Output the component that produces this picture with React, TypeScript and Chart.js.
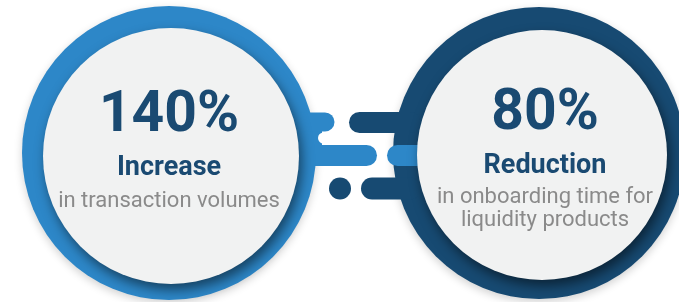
import React, { useEffect, useRef } from "react";
import { Chart, registerables } from "chart.js";

Chart.register(...registerables);

// ---- content ----
const metrics = ["140%", "80%"];
const headings = ["Increase", "Reduction"];
const captions = [["in transaction volumes"], ["in onboarding time for", "liquidity products"]];

// ---- palette ----
const BLUE = "#2d87c8";
const NAVY = "#174a72";
const FACE = "#f1f2f2";
const NUM = "#1a4a72";
const GRAY = "#8a8a8a";

// ---- layout (in scale units = canvas px) ----
const W = 679;
const H = 302;
const rings = [
  { x: 169, y: 153, r: 147, c: BLUE },
  { x: 539, y: 153, r: 146, c: NAVY },
];
const faces = [
  { x: 171, y: 156, r: 128 },
  { x: 542, y: 155, r: 125 },
];
const textCenters = [169, 545];
const numBase = [131, 129];
const headBase = [175, 173];
const capBase = [[207], [203, 226]];

type Seg = { a: number[]; b: number[]; w: number; c: string; cap?: string };
const segments: Seg[] = [
  { a: [296, 140], b: [322, 140], w: 50, c: BLUE, cap: "butt" },
  { a: [296, 122], b: [325, 122], w: 19, c: BLUE },
  { a: [296, 155.5], b: [366.5, 155.5], w: 21, c: BLUE },
  { a: [323.5, 138], b: [345, 138], w: 11, c: "#ffffff" },
  { a: [359.5, 122.5], b: [410, 122.5], w: 21, c: NAVY },
  { a: [372, 188.5], b: [410, 188.5], w: 22, c: NAVY },
  { a: [397.5, 155.5], b: [425, 155.5], w: 21, c: BLUE },
];
const dots = [{ x: 340, y: 188.5, r: 11, c: NAVY }];

const shadowPlugin = {
  id: "shadows",
  beforeDatasetDraw(chart: any, args: any) {
    const ds = chart.data.datasets[args.index] as any;
    if (ds.shadow) {
      const ctx = chart.ctx;
      ctx.save();
      ctx.shadowColor = ds.shadow.color;
      ctx.shadowBlur = ds.shadow.blur;
      ctx.shadowOffsetX = ds.shadow.dx;
      ctx.shadowOffsetY = ds.shadow.dy;
    }
  },
  afterDatasetDraw(chart: any, args: any) {
    const ds = chart.data.datasets[args.index] as any;
    if (ds.shadow) chart.ctx.restore();
  },
};

const textPlugin = {
  id: "texts",
  afterDatasetsDraw(chart: any) {
    const ctx = chart.ctx;
    const sx = chart.scales.x;
    const sy = chart.scales.y;
    ctx.save();
    ctx.textAlign = "center";
    ctx.textBaseline = "alphabetic";
    metrics.forEach((m, i) => {
      const x = sx.getPixelForValue(textCenters[i]);
      ctx.fillStyle = NUM;
      ctx.font = "bold 57px Roboto";
      ctx.fillText(m, x, sy.getPixelForValue(numBase[i]));
      ctx.font = "bold 27px Roboto";
      ctx.fillText(headings[i], x, sy.getPixelForValue(headBase[i]));
      ctx.fillStyle = GRAY;
      ctx.font = "22px Roboto";
      captions[i].forEach((line, j) => {
        ctx.fillText(line, x, sy.getPixelForValue(capBase[i][j]));
      });
    });
    ctx.restore();
  },
};

export default function App() {
  const ref = useRef<HTMLCanvasElement>(null);
  useEffect(() => {
    if (!ref.current) return;
    const list: any[] = [];
    rings.forEach((r) =>
      list.push({
        type: "bubble",
        data: [{ x: r.x, y: r.y, r: r.r }],
        backgroundColor: r.c,
        borderWidth: 0,
        clip: false,
        shadow: { color: "rgba(0,0,0,0.18)", blur: 8, dx: 0, dy: 3 },
      })
    );
    segments.forEach((s) =>
      list.push({
        type: "line",
        data: [
          { x: s.a[0], y: s.a[1] },
          { x: s.b[0], y: s.b[1] },
        ],
        borderColor: s.c,
        borderWidth: s.w,
        borderCapStyle: s.cap || "round",
        pointRadius: 0,
        fill: false,
        tension: 0,
        clip: false,
      })
    );
    dots.forEach((d) =>
      list.push({
        type: "bubble",
        data: [{ x: d.x, y: d.y, r: d.r }],
        backgroundColor: d.c,
        borderWidth: 0,
        clip: false,
      })
    );
    faces.forEach((f) =>
      list.push({
        type: "bubble",
        data: [{ x: f.x, y: f.y, r: f.r }],
        backgroundColor: FACE,
        borderWidth: 0,
        clip: false,
        shadow: { color: "rgba(0,0,0,0.5)", blur: 12, dx: 3, dy: 6 },
      })
    );
    const n = list.length;
    list.forEach((d, i) => (d.order = n - i));

    const chart = new Chart(ref.current, {
      type: "bubble",
      data: { datasets: list },
      options: {
        responsive: false,
        maintainAspectRatio: false,
        animation: false,
        events: [],
        layout: { padding: 0, autoPadding: false },
        scales: {
          x: { type: "linear", min: 0, max: W, display: false },
          y: { type: "linear", min: 0, max: H, reverse: true, display: false },
        },
        plugins: { legend: { display: false }, tooltip: { enabled: false } },
      } as any,
      plugins: [shadowPlugin, textPlugin],
    });
    return () => chart.destroy();
  }, []);

  return (
    <div style={{ position: "fixed", left: 0, top: 0, width: W, height: H, background: "#fff" }}>
      <canvas ref={ref} width={W} height={H} style={{ display: "block", width: W, height: H }} />
    </div>
  );
}
